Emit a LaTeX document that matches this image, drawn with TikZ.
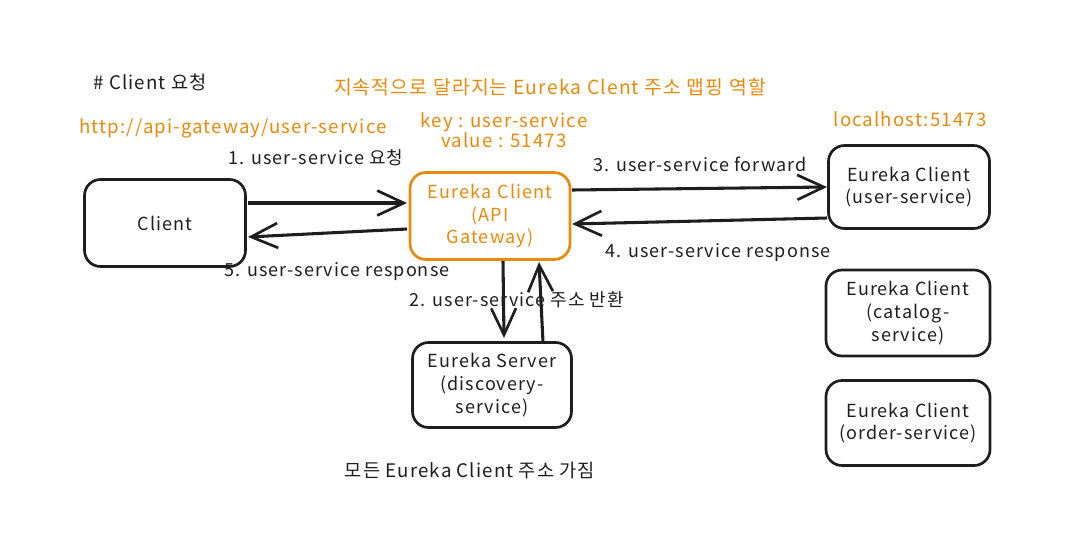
\documentclass[tikz,border=0pt]{standalone}
\usepackage{fontspec}
\setmainfont[LetterSpace=6]{Noto Sans CJK KR}
\usetikzlibrary{arrows.meta}
\definecolor{exorange}{HTML}{E8890C}
\definecolor{ink}{HTML}{1E1E1E}
\tikzset{
  box/.style={draw=ink, line width=2pt, rounded corners=12pt, align=center, text=ink, font=\fontsize{13.5}{17}\selectfont},
  obox/.style={box, draw=exorange, text=exorange},
  conn/.style={draw=ink, line width=2.3pt, -{Straight Barb[angle=50:22pt, line width=2pt]}},
  lbl/.style={text=ink, font=\fontsize{13.5}{16}\selectfont},
  olbl/.style={text=exorange, font=\fontsize{14}{16}\selectfont, align=center},
}
\begin{document}
\begin{tikzpicture}[x=0.75pt, y=-0.75pt]
\useasboundingbox (0,0) rectangle (1067,533);
\node[box, minimum width=161*0.75pt, minimum height=87*0.75pt] (client) at (165,223) {Client};
\node[obox, minimum width=160*0.75pt, minimum height=87*0.75pt, text width=110pt] (gw) at (490,216) {Eureka Client\\(API\\Gateway)};
\node[box, minimum width=161*0.75pt, minimum height=83*0.75pt] (us) at (909,187) {Eureka Client\\(user-service)};
\node[box, minimum width=164*0.75pt, minimum height=86*0.75pt] (cat) at (908,313) {Eureka Client\\(catalog-\\service)};
\node[box, minimum width=164*0.75pt, minimum height=85*0.75pt] (ord) at (908,423) {Eureka Client\\(order-service)};
\node[box, minimum width=159*0.75pt, minimum height=85*0.75pt] (srv) at (492,385) {Eureka Server\\(discovery-\\service)};

% coordinates for arrow ends
\coordinate (c1s) at (248,203); \coordinate (c1e) at (407,203);
\coordinate (c5s) at (407,229); \coordinate (c5e) at (248,237);
\coordinate (c3s) at (572,190); \coordinate (c3e) at (827,187);
\coordinate (c4s) at (827,218); \coordinate (c4e) at (572,224);
\coordinate (c2s) at (503,261); \coordinate (c2e) at (504,338);
\coordinate (c6s) at (543,342); \coordinate (c6e) at (539,262);

\draw[conn] (c1s) -- (c1e);
\draw[conn] (c5s) -- (c5e);
\draw[conn] (c3s) -- (c3e);
\draw[conn] (c4s) -- (c4e);
\draw[conn] (c2s) -- (c2e);
\draw[conn] (c6s) -- (c6e);

\node[lbl] (l1) at (316,158) {1. user-service 요청};
\node[lbl] (l5) at (337,272) {5. user-service response};
\node[lbl] (l3) at (700,164) {3. user-service forward};
\node[lbl] (l4) at (718,253) {4. user-service response};
\node[lbl] (l2) at (517,300) {2. user-service 주소 반환};

\node[lbl, font=\fontsize{14}{16}\selectfont] (t1) at (150,82) {\# Client 요청};
\node[olbl, font=\fontsize{14.5}{16}\selectfont] (t2) at (550,87) {지속적으로 달라지는 Eureka Clent 주소 맵핑 역할};
\node[olbl] (t3) at (233,128) {http://api-gateway/user-service};
\node[olbl, font=\fontsize{14}{15}\selectfont] (t4) at (504,130) {key : user-service\\value : 51473};
\node[olbl] (t5) at (910,119) {localhost:51473};
\node[lbl, font=\fontsize{14}{16}\selectfont] (t6) at (470,470) {모든 Eureka Client 주소 가짐};
\end{tikzpicture}
\end{document}
